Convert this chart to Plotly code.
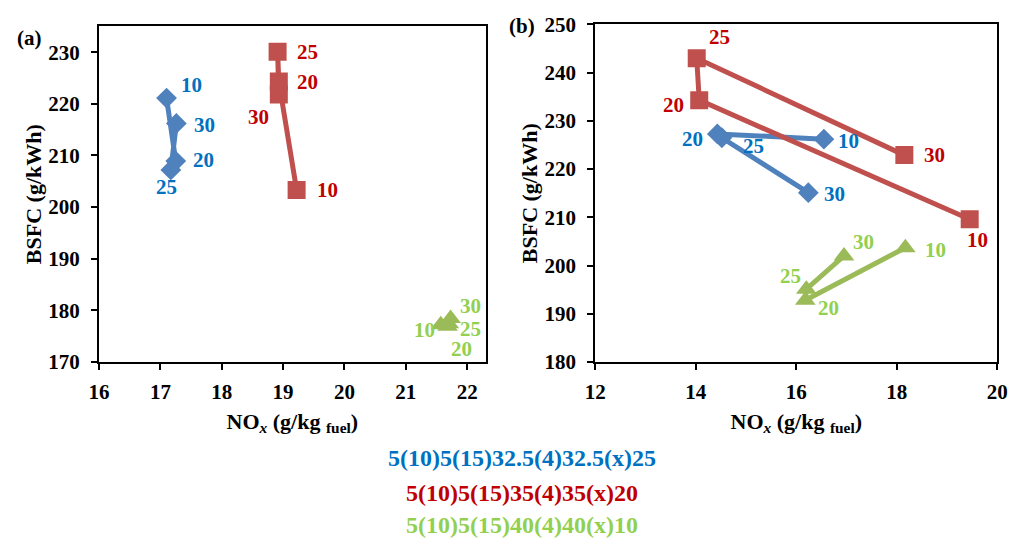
import plotly.graph_objects as go

# ---------------- data ----------------
labels = ["10", "20", "25", "30"]

# panel (a)
a_blue_x = [17.10, 17.25, 17.17, 17.26]
a_blue_y = [221.1, 208.9, 207.2, 216.2]
a_red_x = [19.22, 18.93, 18.91, 18.93]
a_red_y = [203.3, 224.3, 230.1, 221.8]
a_green_x = [21.57, 21.68, 21.70, 21.73]
a_green_y = [177.2, 176.9, 177.4, 178.4]

# panel (b)
b_blue_x = [16.55, 14.43, 14.52, 16.24]
b_blue_y = [226.2, 227.3, 226.5, 215.1]
b_red_x = [19.45, 14.07, 14.02, 18.15]
b_red_y = [209.6, 234.3, 243.0, 222.9]
b_green_x = [18.17, 16.18, 16.20, 16.95]
b_green_y = [203.7, 192.8, 195.1, 202.0]

series_names = ["5(10)5(15)32.5(4)32.5(x)25",
                "5(10)5(15)35(4)35(x)20",
                "5(10)5(15)40(4)40(x)10"]

# label offsets (pixels: dx right, dy down) in order 10,20,25,30
a_off = {
    "blue": [(25, -13), (28, -1), (-4, 17), (28, 2)],
    "red": [(31, 0), (29, 0), (30, 0), (-20, 22)],
    "green": [(-16, 5), (14, 23), (22, 5), (20, -13)],
}
b_off = {
    "blue": [(25, 2), (-25, 5), (32, 8), (26, 1)],
    "red": [(8, 21), (-26, 5), (23, -21), (30, 0)],
    "green": [(30, 2), (23, 8), (-16, -13), (19, -14)],
}

# ---------------- styles ----------------
line_col = {"blue": "#4F81BD", "red": "#C0504D", "green": "#9BBB59"}
text_col = {"blue": "#0070C0", "red": "#C00000", "green": "#92D050"}
symbols = {"blue": "diamond", "red": "square", "green": "triangle-up"}
msize = {"blue": 16, "red": 18, "green": 18}
FONT = "Liberation Serif"

W, H = 1024, 548
fig = go.Figure()

panels = [
    ("x", "y", {"blue": (a_blue_x, a_blue_y), "red": (a_red_x, a_red_y),
                "green": (a_green_x, a_green_y)}, a_off),
    ("x2", "y2", {"blue": (b_blue_x, b_blue_y), "red": (b_red_x, b_red_y),
                  "green": (b_green_x, b_green_y)}, b_off),
]

annotations = []
for xa, ya, data, offs in panels:
    for key, name in zip(["blue", "red", "green"], series_names):
        xs, ys = data[key]
        fig.add_trace(go.Scatter(
            x=xs, y=ys, mode="lines+markers", name=name, xaxis=xa, yaxis=ya,
            line=dict(color=line_col[key], width=5),
            marker=dict(symbol=symbols[key], size=msize[key], color=line_col[key]),
            showlegend=False,
        ))
        for xv, yv, lab, (dx, dy) in zip(xs, ys, labels, offs[key]):
            annotations.append(dict(
                x=xv, y=yv, xref=xa, yref=ya, text=lab, showarrow=False,
                xshift=dx, yshift=-dy, xanchor="center", yanchor="middle",
                font=dict(family=FONT, size=21, color=text_col[key], weight="bold"),
            ))

# panel letters
annotations.append(dict(x=19 / W, y=1 - 27 / H, xref="paper", yref="paper", text="(a)",
                        xanchor="center", yanchor="middle",
                        showarrow=False, font=dict(family=FONT, size=21, color="black", weight="bold")))
annotations.append(dict(x=522 / W, y=1 - 15 / H, xref="paper", yref="paper", text="(b)",
                        xanchor="center", yanchor="middle",
                        showarrow=False, font=dict(family=FONT, size=21, color="black", weight="bold")))

# legend text
for name, key, ypx in zip(series_names, ["blue", "red", "green"], [466, 503, 537]):
    annotations.append(dict(x=522 / W, y=1 - ypx / H, xref="paper", yref="paper", text=name,
                            xanchor="center", yanchor="middle", showarrow=False,
                            font=dict(family=FONT, size=24, color=text_col[key], weight="bold")))

axis_common = dict(
    showgrid=False, zeroline=False, showline=True, linecolor="black", linewidth=2,
    mirror=True, ticks="outside", ticklen=6, tickcolor="black", tickwidth=2,
    tickfont=dict(family=FONT, size=21, color="black", weight="bold"),
)
xtitle = "NO<sub><i>x</i></sub> (g/kg <sub>fuel</sub>)"
ytitle = "BSFC (g/kWh)"
tfont = dict(family=FONT, size=22, color="black", weight="bold")

fig.update_layout(
    width=W, height=H, margin=dict(l=0, r=0, t=0, b=0),
    paper_bgcolor="white", plot_bgcolor="white",
    xaxis=dict(domain=[90 / W, 485 / W], range=[16, 22.3], dtick=1, anchor="y",
               ticklabelstandoff=4,
               title=dict(text=xtitle, font=tfont, standoff=10), **axis_common),
    yaxis=dict(domain=[1 - 366 / H, 1 - 15 / H], range=[170, 235], dtick=10, anchor="x",
               ticklabelstandoff=7,
               title=dict(text=ytitle, font=tfont, standoff=1), **axis_common),
    xaxis2=dict(domain=[597 / W, 1008 / W], range=[12, 20], dtick=2, anchor="y2",
                ticklabelstandoff=4,
                title=dict(text=xtitle, font=tfont, standoff=10), **axis_common),
    yaxis2=dict(domain=[1 - 366 / H, 1 - 13 / H], range=[180, 250], dtick=10, anchor="x2",
                ticklabelstandoff=7,
                title=dict(text=ytitle, font=tfont, standoff=1), **axis_common),
    annotations=annotations,
)

fig.write_html("out.html")
